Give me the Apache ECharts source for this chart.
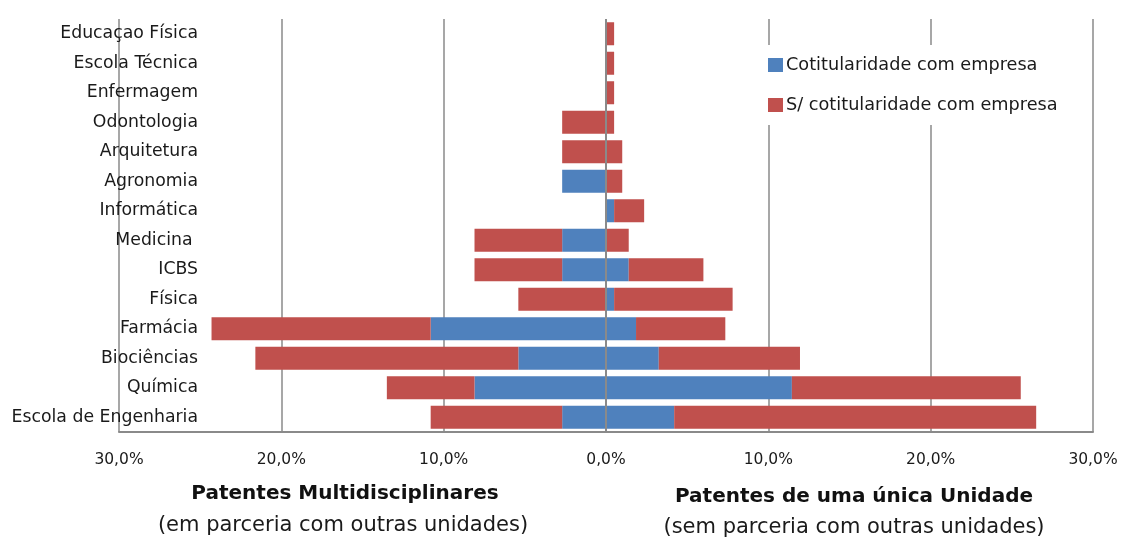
<!DOCTYPE html>
<html>
<head>
<meta charset="utf-8">
<script src="https://cdn.jsdelivr.net/npm/echarts@6/dist/echarts.min.js"></script>
<style>
html,body{margin:0;padding:0;background:#fff;}
#chart{width:1123px;height:541px;}
</style>
</head>
<body>
<div id="chart"></div>
<script>
// Categories from top to bottom
const categories = ['Educaçao Física','Escola Técnica','Enfermagem','Odontologia','Arquitetura','Agronomia','Informática','Medicina ','ICBS','Física','Farmácia','Biociências','Química','Escola de Engenharia'];

// Patentes Multidisciplinares (left side, % — shown as negative)
const multiComEmpresa = [0, 0, 0, 0, 0, 2.7, 0, 2.7, 2.7, 0, 10.8, 5.4, 8.1, 2.7];
const multiSemEmpresa = [0, 0, 0, 2.7, 2.7, 0, 0, 5.4, 5.4, 5.4, 13.5, 16.2, 5.4, 8.1];

// Patentes de uma única Unidade (right side, %)
const unicaComEmpresa = [0, 0, 0, 0, 0, 0, 0.5, 0, 1.4, 0.5, 1.85, 3.25, 11.45, 4.2];
const unicaSemEmpresa = [0.5, 0.5, 0.5, 0.5, 1.0, 1.0, 1.85, 1.4, 4.6, 7.3, 5.5, 8.7, 14.1, 22.3];

const seriesNames = ['Cotitularidade com empresa', 'S/ cotitularidade com empresa'];
const xTicks = [-30, -20, -10, 0, 10, 20, 30];
const axisTitles = ['Patentes Multidisciplinares', '(em parceria com outras unidades)', 'Patentes de uma única Unidade', '(sem parceria com outras unidades)'];

const BLUE = '#4F81BD', RED = '#C0504D';
const FONT = 'DejaVu Sans';

const chart = echarts.init(document.getElementById('chart'));
const neg = a => a.map(v => v === 0 ? 0 : -v);

const barCommon = {
  type: 'bar', stack: 'total', barCategoryGap: '22%', silent: true,
  emphasis: { disabled: true }, animation: false
};

chart.setOption({
  backgroundColor: '#fff',
  animation: false,
  grid: { left: 119, right: 30, top: 19, bottom: 109 },
  legend: {
    orient: 'vertical', left: 762, top: 45,
    data: seriesNames,
    icon: 'rect', itemWidth: 15, itemHeight: 14, itemGap: 16,
    backgroundColor: '#fff', padding: [8, 6, 8, 6],
    textStyle: { fontFamily: FONT, fontSize: 17.7, color: '#1a1a1a', lineHeight: 24, padding: [0, 0, 0, -2] },
    selectedMode: false
  },
  xAxis: {
    type: 'value', min: xTicks[0], max: xTicks[xTicks.length - 1], interval: 10,
    axisLine: { show: true, lineStyle: { color: '#8a8a8a', width: 2 } },
    axisTick: { show: false },
    splitLine: { show: true, lineStyle: { color: '#8a8a8a', width: 1.5 } },
    axisLabel: {
      margin: 20, fontFamily: FONT, fontSize: 15.5, color: '#1a1a1a',
      formatter: v => Math.abs(v).toFixed(1).replace('.', ',') + '%'
    }
  },
  yAxis: {
    type: 'category', data: categories, inverse: true,
    axisLine: { show: false }, axisTick: { show: false },
    axisLabel: { margin: -79, fontFamily: FONT, fontSize: 17.3, color: '#1a1a1a' }
  },
  series: [
    Object.assign({}, barCommon, {
      name: seriesNames[0], data: neg(multiComEmpresa), itemStyle: { color: BLUE },
      markLine: {
        silent: true, symbol: 'none', label: { show: false },
        lineStyle: { color: '#8a8a8a', width: 2, type: 'solid' },
        data: [{ xAxis: 0 }], animation: false
      }
    }),
    Object.assign({}, barCommon, { name: seriesNames[1], data: neg(multiSemEmpresa), itemStyle: { color: RED } }),
    Object.assign({}, barCommon, { name: seriesNames[0], data: unicaComEmpresa, itemStyle: { color: BLUE } }),
    Object.assign({}, barCommon, { name: seriesNames[1], data: unicaSemEmpresa, itemStyle: { color: RED } })
  ],
  graphic: [
    { type: 'text', x: 345, y: 494, style: { text: axisTitles[0], fontFamily: FONT, fontSize: 20, fontWeight: 'bold', fill: '#111', align: 'center', verticalAlign: 'middle' } },
    { type: 'text', x: 343, y: 526, style: { text: axisTitles[1], fontFamily: FONT, fontSize: 21, fill: '#1a1a1a', align: 'center', verticalAlign: 'middle' } },
    { type: 'text', x: 854, y: 497, style: { text: axisTitles[2], fontFamily: FONT, fontSize: 20, fontWeight: 'bold', fill: '#111', align: 'center', verticalAlign: 'middle' } },
    { type: 'text', x: 854, y: 528, style: { text: axisTitles[3], fontFamily: FONT, fontSize: 21, fill: '#1a1a1a', align: 'center', verticalAlign: 'middle' } }
  ]
});
</script>
</body>
</html>
